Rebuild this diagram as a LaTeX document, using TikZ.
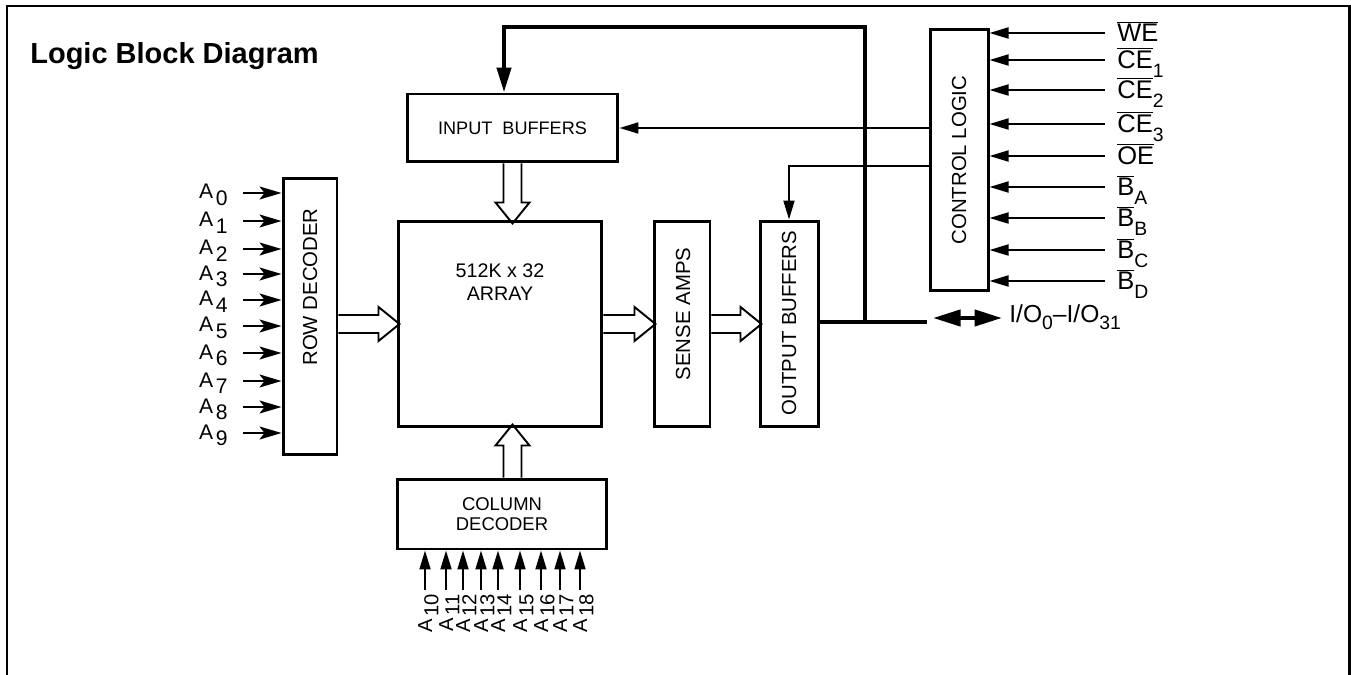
\documentclass[tikz,border=0pt]{standalone}
\usepackage{fontspec}
\setmainfont{Liberation Sans}
\usepackage{tikz}
\usetikzlibrary{positioning, arrows.meta}

\newcommand{\lowdig}[1]{\raisebox{-0.6ex}{#1}}
\newcommand{\lowsub}[1]{\raisebox{-0.6ex}{\fontsize{11}{11}\selectfont #1}}
\newcommand{\barsig}[1]{$\overline{\mbox{#1}}$}
\newcommand{\fatarrow}[3]{%
  \draw[fat, shift={(#1)}, rotate=#2] (0,-9) -- (#3-21,-9) -- (#3-21,-17) -- (#3,0)
    -- (#3-21,17) -- (#3-21,9) -- (0,9);}

\begin{document}
\begin{tikzpicture}[x=0.02cm, y=-0.02cm, font=\fontsize{10.3}{13.5}\selectfont,
  blk/.style={draw, line width=1.7pt, inner sep=0pt, align=center},
  lbl/.style={inner sep=0pt},
  vtxt/.style={inner sep=0pt, rotate=90, font=\fontsize{11.6}{13}\selectfont},
  sig/.style={line width=1.1pt, -{Triangle[length=0.38cm, width=0.22cm]}},
  addr/.style={line width=1.1pt, -{Stealth[length=0.44cm, width=0.26cm, inset=0.1cm]}},
  bus/.style={line width=2.4pt},
  fat/.style={line width=1.1pt, line join=miter}]
  \useasboundingbox (0,0) rectangle (1351,675);
  \draw[line width=1.7pt] (7,675) -- (7,6) -- (1349,6) -- (1349,675);
  \node[lbl, anchor=base west, font=\fontsize{16.5}{18}\selectfont\bfseries] (title) at (30,64) {Logic Block Diagram};

  \node[blk, minimum width=4.22cm, minimum height=1.36cm] (inbuf) at (512.5,128) {INPUT~~BUFFERS};
  \node[blk, minimum width=4.08cm, minimum height=4.12cm] (array) at (500,324) {};
  \node[lbl, align=center, font=\fontsize{11.2}{13.5}\selectfont] (arraytxt) at (500,282) {512K x 32\\ARRAY};
  \node[blk, minimum width=1.12cm, minimum height=4.12cm] (sense) at (682,324) {};
  \node[vtxt] (sensetxt) at (683,314) {SENSE AMPS};
  \node[blk, minimum width=1.16cm, minimum height=4.12cm] (outbuf) at (789,324) {};
  \node[vtxt] (outtxt) at (789,323) {OUTPUT BUFFERS};
  \node[blk, minimum width=1.16cm, minimum height=5.24cm] (ctrl) at (959,160) {};
  \node[vtxt] (ctrltxt) at (959,160) {CONTROL LOGIC};
  \node[blk, minimum width=1.08cm, minimum height=5.54cm] (rowdec) at (310,316.5) {};
  \node[vtxt] (rowtxt) at (310,287) {ROW DECODER};
  \node[blk, minimum width=4.2cm, minimum height=1.4cm, font=\fontsize{10.5}{11.3}\selectfont] (coldec) at (502,514) {COLUMN\\DECODER};

  \fatarrow{rowdec.east |- array.west}{0}{61}
  \fatarrow{array.east}{0}{52}
  \fatarrow{sense.east}{0}{50}
  \fatarrow{inbuf.south}{-90}{60}
  \fatarrow{coldec.north -| inbuf.south}{90}{53}

  \coordinate (tap) at (865,322);
  \coordinate (busend) at (927,322);
  \coordinate (fbtop) at (504,27);
  \draw[bus] (outbuf.east |- tap) -- (busend);
  \draw[bus, -{Triangle[length=0.5cm, width=0.28cm]}] (tap) -- (tap |- fbtop) -- (fbtop) -- (fbtop |- inbuf.north);

  \draw[sig] (ctrl.west |- inbuf.east) -- (inbuf.east);
  \draw[sig] ([yshift=-0.12cm]ctrl.west) -| (outbuf.north);

  \node[lbl, anchor=base west, font=\fontsize{14}{16}\selectfont] (io) at (1009,322) {I/O\lowsub{0}–I/O\lowsub{31}};
  \coordinate (iol) at (933,318);
  \coordinate (ior) at ([xshift=-0.14cm]io.west);
  \draw[bus, {Triangle[length=0.55cm, width=0.32cm]}-{Triangle[length=0.55cm, width=0.32cm]}] (iol) -- (iol -| ior);

  \foreach \y/\ctl [count=\i] in {33/\barsig{WE}, 60/\barsig{CE}\lowsub{1}, 90/\barsig{CE}\lowsub{2},
      124/\barsig{CE}\lowsub{3}, 156/\barsig{OE}, 187/\barsig{B}\lowsub{A}, 218/\barsig{B}\lowsub{B},
      250/\barsig{B}\lowsub{C}, 281/\barsig{B}\lowsub{D}} {
    \coordinate (cin\i) at (1105,\y);
    \node[lbl, anchor=base west, font=\fontsize{14.5}{16}\selectfont] (clbl\i) at ([shift={(12,9)}]cin\i) {\ctl};
    \draw[sig] (cin\i) -- (cin\i -| ctrl.east);
  }

  \foreach \y [count=\i from 0] in {193,221,249,274,300,326,353,381,407,433} {
    \coordinate (ain\i) at (243,\y);
    \node[lbl, anchor=base east, font=\fontsize{12}{13}\selectfont] (alb\i) at ([shift={(-15,6)}]ain\i) {A\kern1.5pt\lowdig{\i}};
    \draw[addr] (ain\i) -- (ain\i -| rowdec.west);
  }

  \foreach \x [count=\i from 10] in {425,446,463,481,498,520,541,560,580} {
    \coordinate (acol\i) at (\x,590);
    \node[lbl, rotate=90, anchor=base east, font=\fontsize{11.5}{12}\selectfont] (acl\i) at ([shift={(7,4)}]acol\i) {A\kern1.5pt\lowdig{\i}};
    \draw[sig] (acol\i) -- (acol\i |- coldec.south);
  }
\end{tikzpicture}
\end{document}
